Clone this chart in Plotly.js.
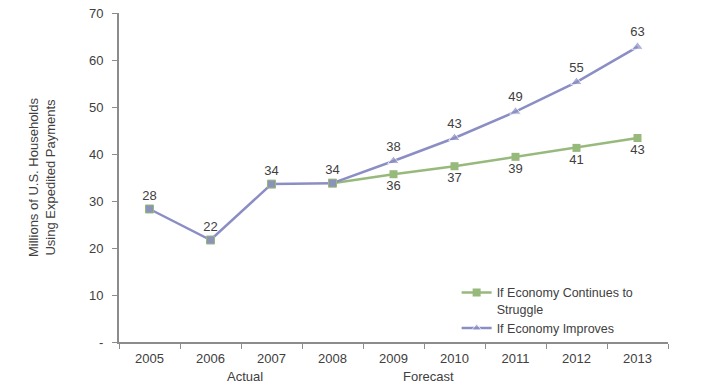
<!DOCTYPE html>
<html>
<head>
<meta charset="utf-8">
<script src="https://cdn.plot.ly/plotly-3.0.1.min.js"></script>
<style>html,body{margin:0;padding:0;background:#fff;}#chart{width:720px;height:390px;}</style>
</head>
<body>
<div id="chart"></div>
<script>
const years = ['2005','2006','2007','2008','2009','2010','2011','2012','2013'];
const actualYears = ['2005','2006','2007','2008'];
const actualValues = [28.3, 21.7, 33.6, 33.8];
const actualLabels = ['28', '22', '34', '34'];
const forecastYears = ['2008','2009','2010','2011','2012','2013'];
const struggleValues = [33.8, 35.7, 37.4, 39.4, 41.3, 43.4];
const struggleLabels = ['', '36', '37', '39', '41', '43'];
const improvesValues = [33.8, 38.5, 43.4, 49.0, 55.3, 62.8];
const improvesLabels = ['', '38', '43', '49', '55', '63'];
const yTickValues = [0, 10, 20, 30, 40, 50, 60, 70];
const yTickLabels = ['-', '10', '20', '30', '40', '50', '60', '70'];
const seriesNames = ['If Economy Continues to<br>Struggle', 'If Economy Improves'];
const periodLabels = ['Actual', 'Forecast'];

const green = '#98b97c';
const purple = '#8b8ec4';
const textColor = '#404040';
const font = 'Liberation Sans, Arial, sans-serif';
const fs = 13;

const traces = [
  {
    x: forecastYears, y: struggleValues, name: seriesNames[0], type: 'scatter',
    mode: 'lines+markers+text', text: struggleLabels, textposition: 'bottom center',
    textfont: {family: font, size: fs, color: textColor},
    line: {color: green, width: 2.5},
    marker: {symbol: 'square', size: 8, color: green},
    cliponaxis: false
  },
  {
    x: forecastYears, y: improvesValues, name: seriesNames[1], type: 'scatter',
    mode: 'lines+markers+text', text: improvesLabels, textposition: 'top center',
    textfont: {family: font, size: fs, color: textColor},
    line: {color: purple, width: 2.5},
    marker: {symbol: 'triangle-up', size: [0, 10, 10, 10, 10, 10], color: purple},
    cliponaxis: false
  },
  {
    x: actualYears, y: actualValues, name: 'Actual', type: 'scatter', showlegend: false,
    mode: 'lines+markers+text', text: actualLabels, textposition: 'top center',
    textfont: {family: font, size: fs, color: textColor},
    line: {color: purple, width: 2.5},
    marker: {symbol: 'square', size: 8, color: '#8c93b8', line: {color: green, width: 1}},
    cliponaxis: false
  }
];

const layout = {
  width: 720, height: 390,
  margin: {l: 119, r: 52, t: 13, b: 48},
  paper_bgcolor: '#fff', plot_bgcolor: '#fff',
  font: {family: font, size: fs, color: textColor},
  showlegend: true,
  legend: {
    x: 0.615, y: 0.195, xanchor: 'left', yanchor: 'top',
    font: {family: font, size: 12.5, color: textColor},
    valign: 'top', tracegroupgap: 2, bgcolor: 'rgba(0,0,0,0)'
  },
  xaxis: {
    type: 'category', categoryorder: 'array', categoryarray: years,
    range: [-0.5, 8.5], showgrid: false, zeroline: false,
    showline: true, linecolor: '#8c8c8c', linewidth: 2,
    ticks: 'outside', tickson: 'boundaries', ticklen: 5, tickcolor: '#8c8c8c',
    ticklabelstandoff: 3,
    tickfont: {family: font, size: fs, color: textColor}
  },
  yaxis: {
    range: [0, 70], showgrid: false, zeroline: false,
    showline: true, linecolor: '#8c8c8c', linewidth: 2,
    ticks: 'outside', ticklen: 5, tickcolor: '#8c8c8c',
    tickvals: yTickValues, ticktext: yTickLabels,
    tickfont: {family: font, size: fs, color: textColor},
    ticklabelstandoff: 6,
    title: {text: 'Millions of U.S. Households<br>Using Expedited Payments', standoff: 30,
            font: {family: font, size: fs, color: textColor}}
  },
  annotations: [
    {x: 1.57, y: -0.105, xref: 'x', yref: 'paper', yanchor: 'middle', text: periodLabels[0], showarrow: false,
     font: {family: font, size: fs, color: textColor}},
    {x: 4.57, y: -0.105, xref: 'x', yref: 'paper', yanchor: 'middle', text: periodLabels[1], showarrow: false,
     font: {family: font, size: fs, color: textColor}}
  ]
};

Plotly.newPlot('chart', traces, layout, {displayModeBar: false, staticPlot: true});
</script>
</body>
</html>
